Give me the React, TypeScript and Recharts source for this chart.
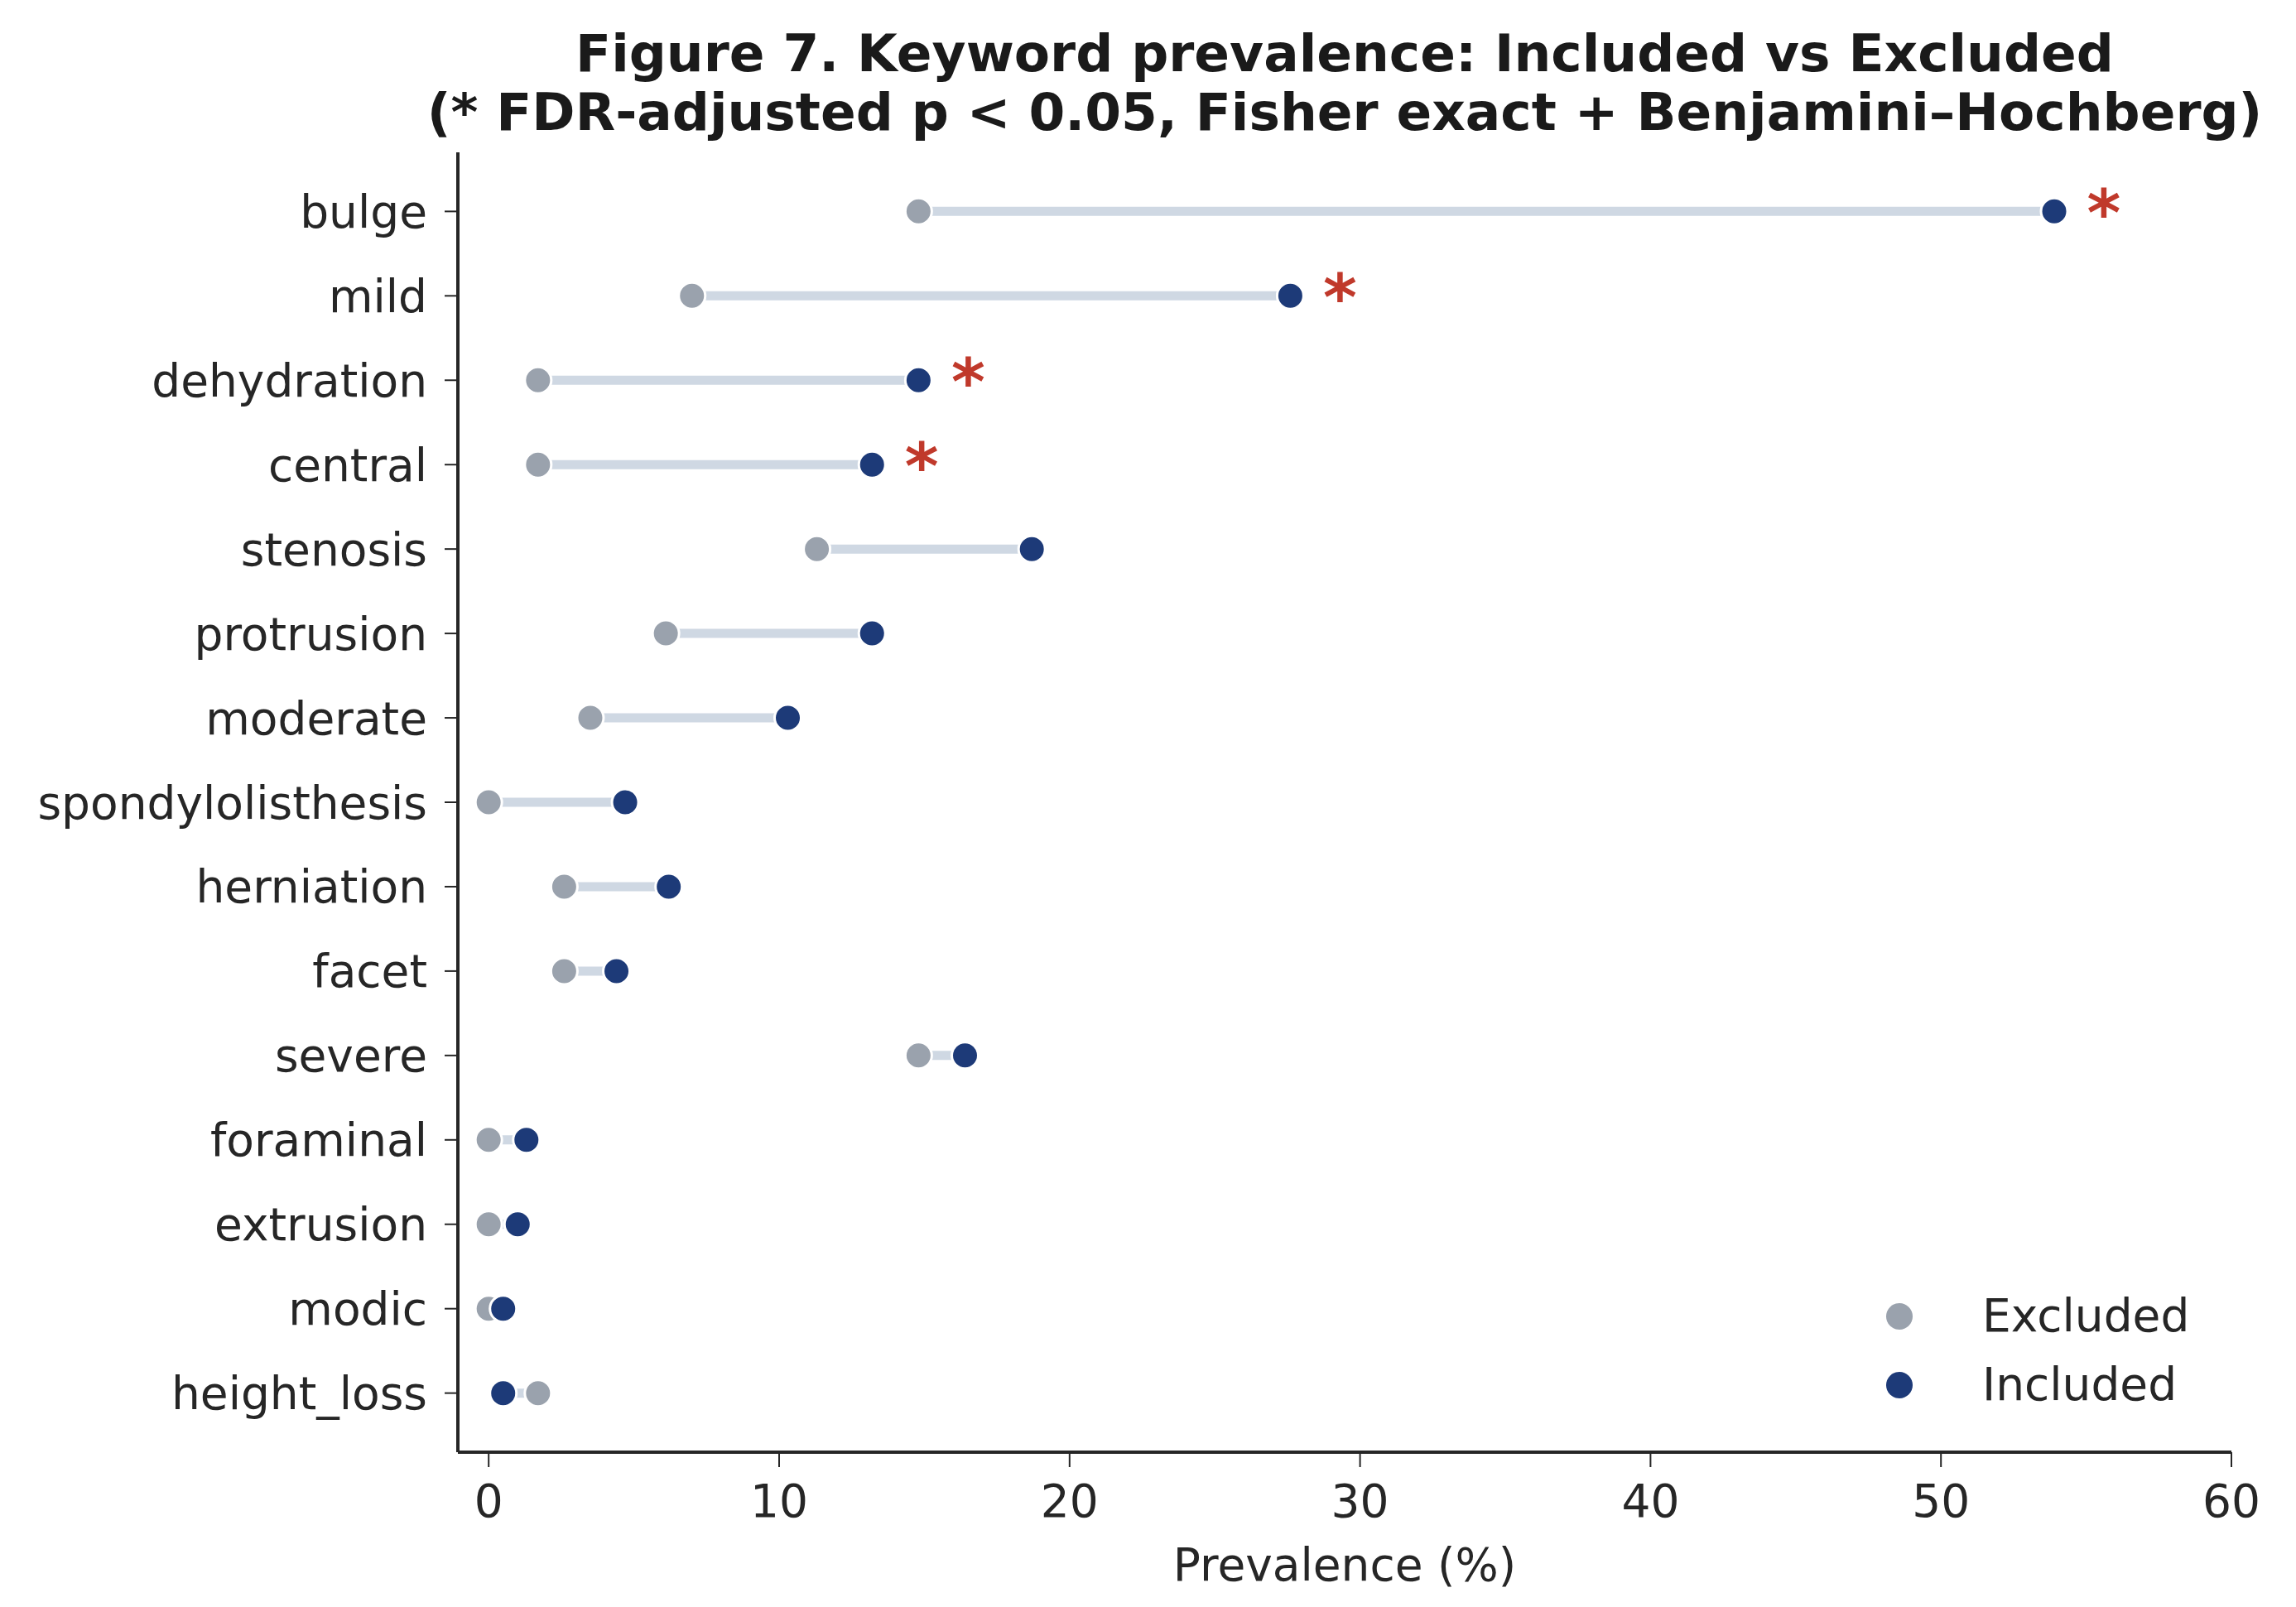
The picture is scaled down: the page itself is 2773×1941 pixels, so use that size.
import React from "react";
import { ScatterChart, Scatter, XAxis, YAxis } from "recharts";

const keywords = [
  "bulge",
  "mild",
  "dehydration",
  "central",
  "stenosis",
  "protrusion",
  "moderate",
  "spondylolisthesis",
  "herniation",
  "facet",
  "severe",
  "foraminal",
  "extrusion",
  "modic",
  "height_loss",
];

const excludedPct = [14.8, 7.0, 1.7, 1.7, 11.3, 6.1, 3.5, 0, 2.6, 2.6, 14.8, 0, 0, 0, 1.7];
const includedPct = [53.9, 27.6, 14.8, 13.2, 18.7, 13.2, 10.3, 4.7, 6.2, 4.4, 16.4, 1.3, 1.0, 0.5, 0.5];
const significant = ["bulge", "mild", "dehydration", "central"];

const xTicks = [0, 10, 20, 30, 40, 50, 60];

const EXCL = "#9aa2ad";
const INCL = "#1d3a78";
const SEG = "#cfd8e3";
const STAR = "#c0392b";
const INK = "#262626";
const FONT = "'DejaVu Sans', sans-serif";

const excludedData = keywords.map((k, i) => ({ x: excludedPct[i], y: i, name: k }));
const includedData = keywords.map((k, i) => ({ x: includedPct[i], y: i, name: k }));
const segments = keywords.map((k, i) => [
  { x: excludedPct[i], y: i },
  { x: includedPct[i], y: i },
]);
const starData = includedData.filter((d) => significant.includes(d.name));

const Dot = (color: string) => (props: any) => (
  <circle cx={props.cx} cy={props.cy} r={16} fill={color} stroke="#fff" strokeWidth={3} />
);

const Star = (props: any) => (
  <text
    x={props.cx + 60}
    y={props.cy + 30}
    textAnchor="middle"
    fontFamily={FONT}
    fontWeight="bold"
    fontSize={78}
    fill={STAR}
  >
    *
  </text>
);

// legend sits inside the axes, bottom right
const LegendBox = () => (
  <div
    style={{
      position: "absolute",
      left: 2278,
      top: 1548,
      fontFamily: FONT,
      fontSize: 55,
      color: INK,
    }}
  >
    {[
      { label: "Excluded", color: EXCL },
      { label: "Included", color: INCL },
    ].map((it) => (
      <div key={it.label} style={{ display: "flex", alignItems: "center", height: 83 }}>
        <div style={{ width: 32, height: 32, borderRadius: 16, background: it.color }} />
        <span style={{ marginLeft: 84, lineHeight: "55px" }}>{it.label}</span>
      </div>
    ))}
  </div>
);

export default function App() {
  return (
    <div style={{ position: "absolute", left: 0, top: 0, width: 2773, height: 1941, background: "#fff" }}>
      <div
        style={{
          position: "absolute",
          left: 324,
          width: 2600,
          top: 29,
          textAlign: "center",
          fontFamily: FONT,
          fontWeight: "bold",
          fontSize: 63,
          lineHeight: "71px",
          color: "#1a1a1a",
          whiteSpace: "nowrap",
        }}
      >
        Figure 7. Keyword prevalence: Included vs Excluded
        <br />
        (* FDR-adjusted p &lt; 0.05, Fisher exact + Benjamini–Hochberg)
      </div>
      <ScatterChart
        width={2773}
        height={1941}
        margin={{ top: 184, right: 78, bottom: 0, left: 0 }}
      >
        <XAxis
          type="number"
          dataKey="x"
          domain={[-1.06, 60]}
          ticks={xTicks}
          allowDataOverflow
          height={187}
          axisLine={{ stroke: INK, strokeWidth: 4 }}
          tickLine={{ stroke: INK, strokeWidth: 2 }}
          tickSize={18}
          tickMargin={21}
          tick={{ fill: INK, fontSize: 55, fontFamily: FONT }}
          label={(p: any) => {
            const vb = p.viewBox;
            return (
              <text
                x={vb.x + vb.width / 2}
                y={vb.y + 155}
                textAnchor="middle"
                fontFamily={FONT}
                fontSize={55}
                fill={INK}
              >
                Prevalence (%)
              </text>
            );
          }}
        />
        <YAxis
          type="number"
          dataKey="y"
          domain={[-0.7, 14.7]}
          reversed
          allowDataOverflow
          ticks={keywords.map((_, i) => i)}
          interval={0}
          tickFormatter={(v: number) => keywords[v]}
          width={553}
          axisLine={{ stroke: INK, strokeWidth: 4 }}
          tickLine={{ stroke: INK, strokeWidth: 2 }}
          tickSize={16}
          tickMargin={21}
          tick={{ fill: INK, fontSize: 55, fontFamily: FONT }}
        />
        {segments.map((seg, i) => (
          <Scatter
            key={keywords[i]}
            data={seg}
            line={{ stroke: SEG, strokeWidth: 11 }}
            shape={() => <g />}
            legendType="none"
            isAnimationActive={false}
          />
        ))}
        <Scatter name="Excluded" data={excludedData} fill={EXCL} shape={Dot(EXCL)} isAnimationActive={false} />
        <Scatter name="Included" data={includedData} fill={INCL} shape={Dot(INCL)} isAnimationActive={false} />
        <Scatter data={starData} shape={Star} legendType="none" isAnimationActive={false} />
      </ScatterChart>
      <LegendBox />
    </div>
  );
}
